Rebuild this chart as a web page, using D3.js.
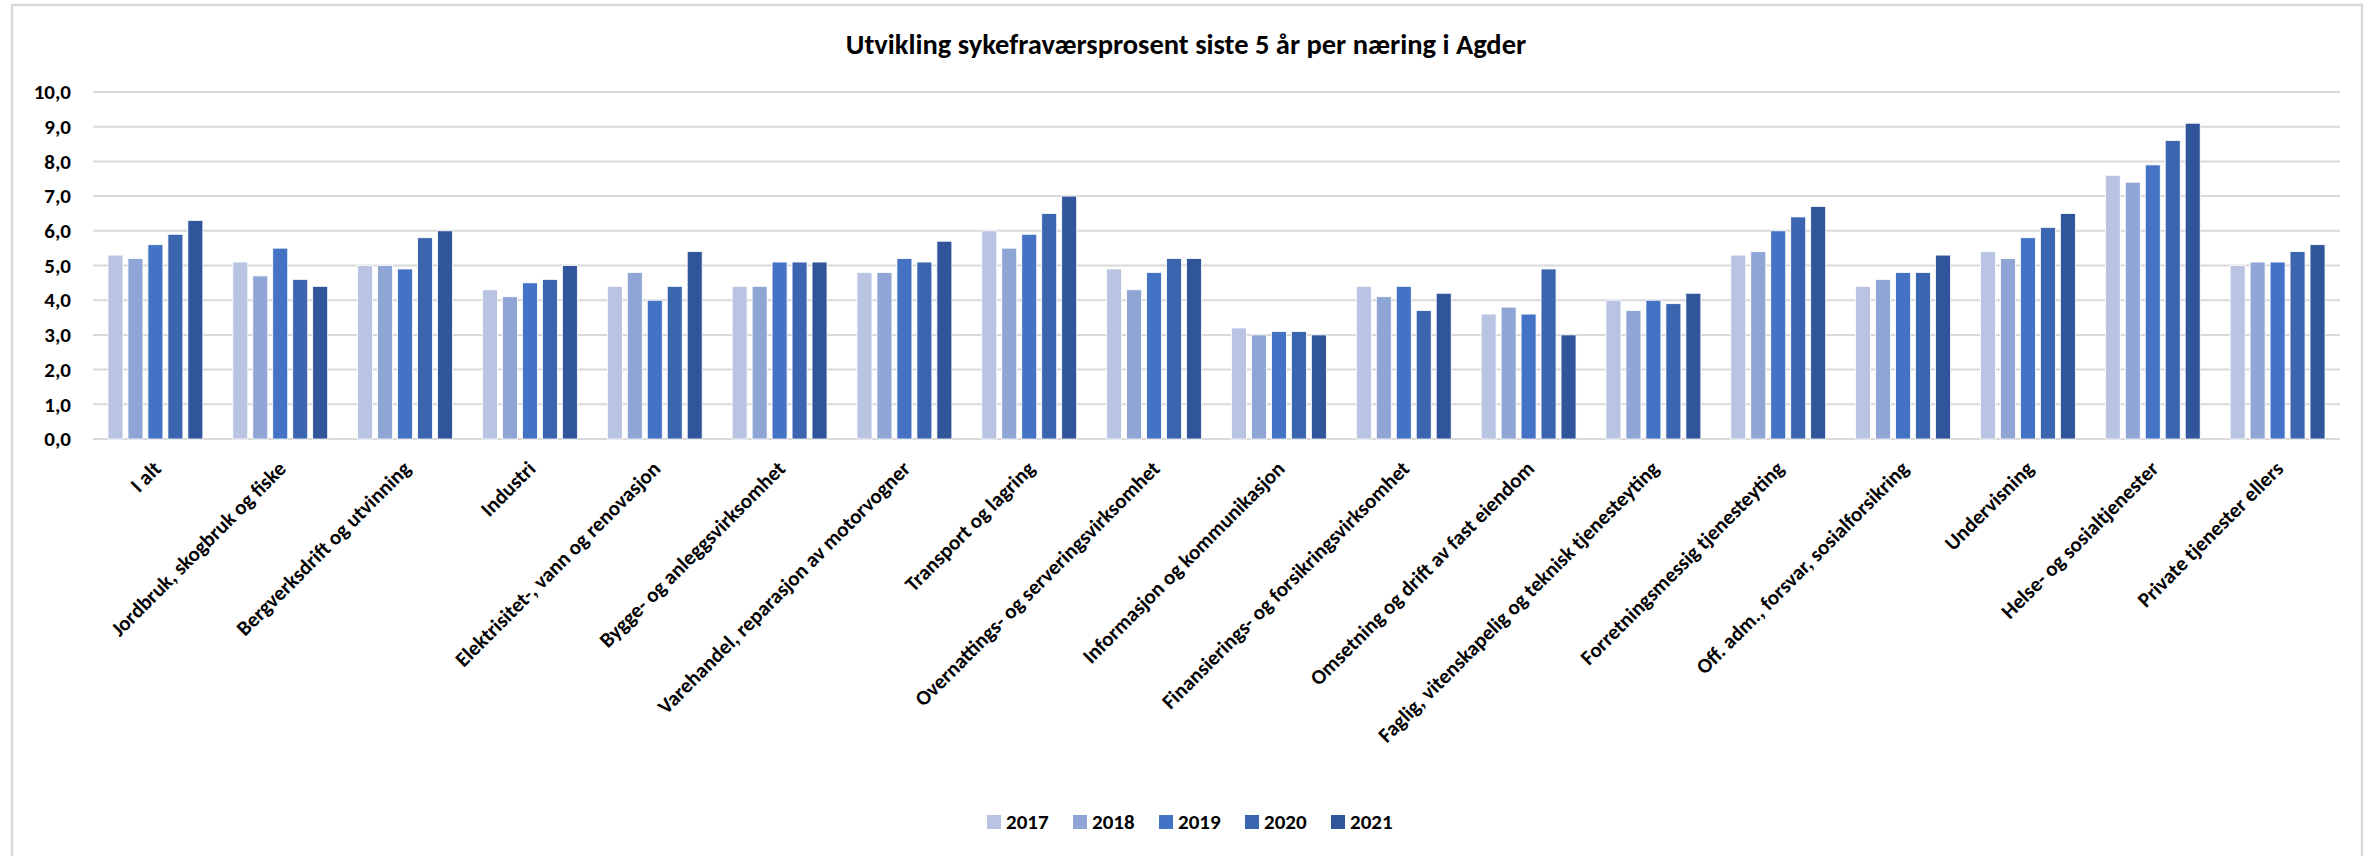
<!DOCTYPE html>
<html>
<head>
<meta charset="utf-8">
<script src="https://cdn.jsdelivr.net/npm/d3@7"></script>
<style>
body { margin: 0; background: #fff; }
text { font-family: Carlito, Calibri, Lato, "Open Sans", sans-serif; fill: #000; }
</style>
</head>
<body>
<div class="chart-container"></div>
<script>
var width = 2372, height = 856;

// data
var categories = ["I alt", "Jordbruk, skogbruk og fiske", "Bergverksdrift og utvinning", "Industri",
	"Elektrisitet-, vann og renovasjon", "Bygge- og anleggsvirksomhet", "Varehandel, reparasjon av motorvogner",
	"Transport og lagring", "Overnattings- og serveringsvirksomhet", "Informasjon og kommunikasjon",
	"Finansierings- og forsikringsvirksomhet", "Omsetning og drift av fast eiendom",
	"Faglig, vitenskapelig og teknisk tjenesteyting", "Forretningsmessig tjenesteyting",
	"Off. adm., forsvar, sosialforsikring", "Undervisning", "Helse- og sosialtjenester", "Private tjenester ellers"];
var years = ["2017", "2018", "2019", "2020", "2021"];
var v2017 = [5.3, 5.1, 5.0, 4.3, 4.4, 4.4, 4.8, 6.0, 4.9, 3.2, 4.4, 3.6, 4.0, 5.3, 4.4, 5.4, 7.6, 5.0];
var v2018 = [5.2, 4.7, 5.0, 4.1, 4.8, 4.4, 4.8, 5.5, 4.3, 3.0, 4.1, 3.8, 3.7, 5.4, 4.6, 5.2, 7.4, 5.1];
var v2019 = [5.6, 5.5, 4.9, 4.5, 4.0, 5.1, 5.2, 5.9, 4.8, 3.1, 4.4, 3.6, 4.0, 6.0, 4.8, 5.8, 7.9, 5.1];
var v2020 = [5.9, 4.6, 5.8, 4.6, 4.4, 5.1, 5.1, 6.5, 5.2, 3.1, 3.7, 4.9, 3.9, 6.4, 4.8, 6.1, 8.6, 5.4];
var v2021 = [6.3, 4.4, 6.0, 5.0, 5.4, 5.1, 5.7, 7.0, 5.2, 3.0, 4.2, 3.0, 4.2, 6.7, 5.3, 6.5, 9.1, 5.6];
var yTicks = [0, 1, 2, 3, 4, 5, 6, 7, 8, 9, 10];
var colors = ["#b9c4e3", "#8fa5d5", "#4472c4", "#3b65ae", "#30559a"];

var series = [v2017, v2018, v2019, v2020, v2021];

var svg = d3.select(".chart-container").append("svg").attr("width", width).attr("height", height);

// chart frame
svg.append("rect")
	.attr("x", 12).attr("y", 5)
	.attr("width", 2350).attr("height", 860)
	.style("fill", "#fff").style("stroke", "#d9d9d9").style("stroke-width", 2.5);

// title
svg.append("text")
	.attr("x", 1186).attr("y", 54)
	.attr("text-anchor", "middle")
	.style("font-size", "28.5px")
	.style("font-weight", "bold")
	.text("Utvikling sykefraværsprosent siste 5 år per næring i Agder");

var plotLeft = 93, plotRight = 2340, plotTop = 92, plotBottom = 439;

var x0 = d3.scaleBand().domain(categories).range([plotLeft, plotRight]).paddingInner(0.24).paddingOuter(0.12);
var x1 = d3.scaleBand().domain(years).range([0, x0.bandwidth()]).paddingInner(0.25);
var y = d3.scaleLinear().domain([0, 10]).range([plotBottom, plotTop]);

var g = svg.append("g");

// gridlines
g.append("g").attr("class", "grid")
	.selectAll("line")
	.data(yTicks)
	.enter()
	.append("line")
	.attr("x1", plotLeft).attr("x2", plotRight)
	.attr("y1", function(d) { return y(d); })
	.attr("y2", function(d) { return y(d); })
	.style("stroke", "#d9d9d9").style("stroke-width", 2);

// y axis labels
var yAxis = d3.axisLeft(y).tickValues(yTicks).tickSize(0).tickPadding(22)
	.tickFormat(function(d) { return d3.format(".1f")(d).replace(".", ","); });
g.append("g")
	.attr("transform", "translate(" + plotLeft + ",0)")
	.call(yAxis)
	.call(function(s) { s.select(".domain").remove(); })
	.selectAll("text")
	.style("font-size", "21px")
	.style("font-weight", "bold")
	.style("font-family", "Carlito, Calibri, Lato, sans-serif");

// bars
var groups = g.append("g").attr("class", "bars")
	.selectAll("g")
	.data(categories)
	.enter()
	.append("g")
	.attr("transform", function(d) { return "translate(" + x0(d) + ",0)"; });

groups.selectAll("rect")
	.data(function(d, i) { return years.map(function(yr, j) { return {year: yr, value: series[j][i], idx: j}; }); })
	.enter()
	.append("rect")
	.attr("x", function(d) { return x1(d.year); })
	.attr("width", x1.bandwidth())
	.attr("y", function(d) { return y(d.value); })
	.attr("height", function(d) { return y(0) - y(d.value); })
	.style("fill", function(d) { return colors[d.idx]; })
	.style("stroke", "#ffffff")
	.style("stroke-width", 0.8);

// x axis labels (rotated)
g.append("g").attr("class", "xlabels")
	.selectAll("text")
	.data(categories)
	.enter()
	.append("text")
	.attr("text-anchor", "end")
	.attr("transform", function(d) {
		return "translate(" + (x0(d) + x0.bandwidth() / 2 + 7) + "," + (plotBottom + 31) + ") rotate(-45)";
	})
	.style("font-size", "21px")
	.style("font-weight", "bold")
	.text(function(d) { return d; });

// legend
var legend = svg.append("g").attr("class", "legend")
	.selectAll("g")
	.data(years)
	.enter()
	.append("g")
	.attr("transform", function(d, i) { return "translate(" + (987 + i * 86) + ",815)"; });

legend.append("rect")
	.attr("width", 14).attr("height", 14)
	.style("fill", function(d, i) { return colors[i]; });

legend.append("text")
	.attr("x", 19).attr("y", 14)
	.style("font-size", "21px")
	.style("font-weight", "bold")
	.text(function(d) { return d; });
</script>
</body>
</html>
